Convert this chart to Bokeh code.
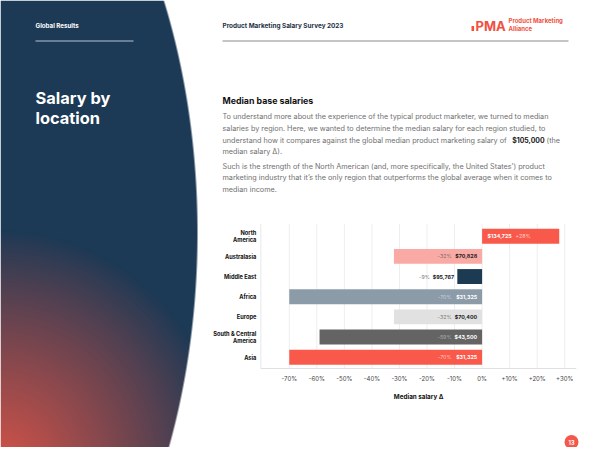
import numpy as np
from bokeh.plotting import figure
from bokeh.models import Range1d, ColumnDataSource
from bokeh.core.properties import value
from bokeh.embed import file_html
from bokeh.resources import INLINE

# ---------------- data ----------------
regions = ["North America", "Australasia", "Middle East", "Africa",
           "Europe", "South & Central America", "Asia"]
region_lines = [["North", "America"], ["Australasia"], ["Middle East"], ["Africa"],
                ["Europe"], ["South & Central", "America"], ["Asia"]]
median_salary = [134725, 70828, 95767, 31325, 70400, 43500, 31325]
delta_pct = [28, -32, -9, -70, -32, -59, -70]
tick_values = [-70, -60, -50, -40, -30, -20, -10, 0, 10, 20, 30]
tick_labels = ["-70%", "-60%", "-50%", "-40%", "-30%", "-20%", "-10%", "0%",
               "+10%", "+20%", "+30%"]
global_median = 105000

# ---------------- styles ----------------
bar_colors = ["#f9594a", "#f9aaa5", "#1d3a53", "#8c9ba8", "#e1e1e1", "#646464", "#f9594a"]
salary_colors = ["#ffffff", "#1a1a1a", "#1a1a1a", "#ffffff", "#1a1a1a", "#ffffff", "#ffffff"]
delta_colors = ["#ffd3cd", "#7b6f6f", "#777777", "#c9d1d8", "#7a7a7a", "#ababab", "#ffc7bf"]
FONT = value("Inter")
RED = "#ef5140"
NAVY = np.array([28, 57, 85], dtype=float)
CORAL = np.array([214, 83, 72], dtype=float)

W, H = 584, 447
# page-pixel mapping of the chart scale
X0, PX = 481.6, 2.755      # 0% position and px per %
Y0, RH = 235.7, 20.17      # first row centre and px per row
X_MIN, X_MAX = -80.3, 34.2  # chart frame in %
ROW_TOP, ROW_BOT = -0.62, 6.56


def fy(py):
    return 463 - py


p = figure(width=W, height=H, x_range=Range1d(0, W), y_range=Range1d(fy(H), fy(0)),
           output_backend="svg", toolbar_location=None, min_border=0,
           x_axis_type=None, y_axis_type=None)
p.outline_line_color = None
p.background_fill_color = "white"
p.border_fill_color = "white"
p.extra_x_ranges = {"pct": Range1d(start=(0 - X0) / PX, end=(W - X0) / PX)}
p.extra_y_ranges = {"row": Range1d(start=(H - Y0) / RH, end=(0 - Y0) / RH)}

# ---------------- left panel with gradient ----------------
IW, IH = 200, H
px = np.arange(IW) + 0.5
py = H - np.arange(IH) - 0.5
PXg, PYg = np.meshgrid(px, py)
dist = np.sqrt((PXg * 1.05) ** 2 + (PYg - 468) ** 2)
t = np.clip(1 - dist / 238.0, 0, 1) ** 0.9
cx, a, cy, b = -103.0, 300.0, 232.0, 504.0
xb = cx + a * np.sqrt(np.clip(1 - ((PYg - cy) / b) ** 2, 0, 1))
alpha = np.clip(xb - PXg + 0.5, 0, 1)
img = np.empty((IH, IW), dtype=np.uint32)
view = img.view(dtype=np.uint8).reshape((IH, IW, 4))
for k in range(3):
    view[:, :, k] = (NAVY[k] * (1 - t) + CORAL[k] * t).astype(np.uint8)
view[:, :, 3] = (alpha * 255).astype(np.uint8)
p.image_rgba(image=[img], x=0, y=fy(H), dw=IW, dh=IH)

# ---------------- header ----------------
p.text(x=[35], y=[fy(25)], text=["Global Results"], text_font=FONT, text_font_style="bold",
       text_font_size="6.2px", text_color="white", text_baseline="middle")
p.segment(x0=[35], y0=[fy(40.5)], x1=[133], y1=[fy(40.5)], line_color="#b7c5d2", line_width=1)
p.text(x=[222], y=[fy(25)], text=["Product Marketing Salary Survey 2023"], text_font=FONT,
       text_font_style="bold", text_font_size="6.4px", text_color="#1d2f45", text_baseline="middle")
p.segment(x0=[222], y0=[fy(40.5)], x1=[568], y1=[fy(40.5)], line_color="#8a8a8a", line_width=1)

# logo
p.text(x=[475], y=[fy(25.8)], text=["PMA"], text_font=FONT, text_font_style="bold",
       text_font_size="13px", text_color=RED, text_baseline="middle")
p.quad(left=[471], right=[473.6], top=[fy(25.5)], bottom=[fy(30.5)], fill_color=RED, line_color=None)
p.text(x=[508, 508], y=[fy(20.3), fy(27.5)], text=["Product Marketing", "Alliance"], text_font=FONT,
       text_font_style="bold", text_font_size="6px", text_color=RED, text_baseline="middle")

# title
p.text(x=[35, 35], y=[fy(97.3), fy(117.3)], text=["Salary by", "location"], text_font=FONT,
       text_font_style="bold", text_font_size="16.4px", text_color="white", text_baseline="middle")

# ---------------- body text ----------------
p.text(x=[222], y=[fy(100)], text=["Median base salaries"], text_font=FONT, text_font_style="bold",
       text_font_size="8.8px", text_color="#111111", text_baseline="middle")
para = [
    (116.0, "To understand more about the experience of the typical product marketer, we turned to median"),
    (127.8, "salaries by region. Here, we wanted to determine the median salary for each region studied, to"),
    (139.5, "understand how it compares against the global median product marketing salary of"),
    (151.2, "median salary \u0394)."),
    (165.8, "Such is the strength of the North American (and, more specifically, the United States\u2019) product"),
    (177.4, "marketing industry that it\u2019s the only region that outperforms the global average when it comes to"),
    (189.0, "median income."),
]
p.text(x=[222] * len(para), y=[fy(v[0]) for v in para], text=[v[1] for v in para], text_font=FONT,
       text_font_size="7.25px", text_color="#707070", text_baseline="middle")
p.text(x=[511.7], y=[fy(139.5)], text=["${:,}".format(global_median)], text_font=FONT,
       text_font_style="bold", text_font_size="6.9px", text_color="#222222", text_baseline="middle")
p.text(x=[546], y=[fy(139.5)], text=["(the"], text_font=FONT,
       text_font_size="7.25px", text_color="#707070", text_baseline="middle")

# ---------------- chart ----------------
R = dict(x_range_name="pct", y_range_name="row")
# grid
p.segment(x0=tick_values, x1=tick_values, y0=[ROW_TOP] * len(tick_values),
          y1=[ROW_BOT] * len(tick_values), line_color="#eeeeee", line_width=1, **R)
p.segment(x0=[X_MIN], x1=[X_MIN], y0=[ROW_TOP], y1=[ROW_BOT], line_color="#e8e8e8", line_width=1, **R)
p.segment(x0=[X_MIN], x1=[X_MAX], y0=[ROW_BOT], y1=[ROW_BOT], line_color="#e0e0e0", line_width=1, **R)

rows = list(range(len(regions)))
src = ColumnDataSource(dict(row=rows, pct=delta_pct, color=bar_colors))
p.hbar(y="row", left=0, right="pct", height=0.74, fill_color="color", line_color=None,
       source=src, **R)

# region labels
lx, ly, lt, loff = [], [], [], []
for i, lines in enumerate(region_lines):
    n = len(lines)
    for k, s in enumerate(lines):
        lx.append(X_MIN)
        ly.append(i)
        lt.append(s)
        loff.append((k - (n - 1) / 2) * 7.0)
p.text(x=lx, y=ly, text=lt, y_offset=loff, x_offset=-4.5, text_font=FONT, text_font_style="bold",
       text_font_size="5.7px", text_color="#111111", text_align="right", text_baseline="middle", **R)

# value labels
sx, sy, st, so, sa, sc = [], [], [], [], [], []
dx, dy, dt, do, da, dc = [], [], [], [], [], []
for i, (v, d) in enumerate(zip(median_salary, delta_pct)):
    s_txt = "${:,}".format(v)
    d_txt = ("+{}%".format(d) if d > 0 else "-{}%".format(abs(d)))
    sw = 3.0 * len(s_txt)
    if d >= 0:
        sx.append(0); so.append(5.5); sa.append("left")
        dx.append(0); do.append(5.5 + sw + 4); da.append("left")
    elif abs(d) * PX > 60:
        sx.append(0); so.append(-5); sa.append("right")
        dx.append(0); do.append(-5 - sw - 4.5); da.append("right")
    else:
        sx.append(d); so.append(-3.3); sa.append("right")
        dx.append(d); do.append(-3.3 - sw - 3); da.append("right")
    sy.append(i); st.append(s_txt); sc.append(salary_colors[i])
    dy.append(i); dt.append(d_txt); dc.append(delta_colors[i])
p.text(x=sx, y=sy, text=st, x_offset=so, text_align=sa, text_color=sc, text_font=FONT,
       text_font_style="bold", text_font_size="5.3px", text_baseline="middle", **R)
p.text(x=dx, y=dy, text=dt, x_offset=do, text_align=da, text_color=dc, text_font=FONT,
       text_font_size="5.3px", text_baseline="middle", **R)

# tick labels & axis title
p.text(x=tick_values, y=[ROW_BOT] * len(tick_values), text=tick_labels, y_offset=10.3,
       text_font=FONT, text_font_size="6px", text_color="#444444", text_align="center",
       text_baseline="middle", **R)
p.text(x=[(X_MIN + X_MAX) / 2], y=[ROW_BOT], text=["Median salary \u0394"], y_offset=28,
       text_font=FONT, text_font_style="bold", text_font_size="6.3px", text_color="#111111",
       text_align="center", text_baseline="middle", **R)

# page number
p.circle(x=[571], y=[fy(441.5)], radius=7, fill_color="#f4584a", line_color=None)
p.text(x=[571], y=[fy(441.5)], text=["13"], text_font=FONT, text_font_style="bold",
       text_font_size="5.5px", text_color="white", text_align="center", text_baseline="middle")

open("out.html", "w").write(file_html(p, INLINE))
